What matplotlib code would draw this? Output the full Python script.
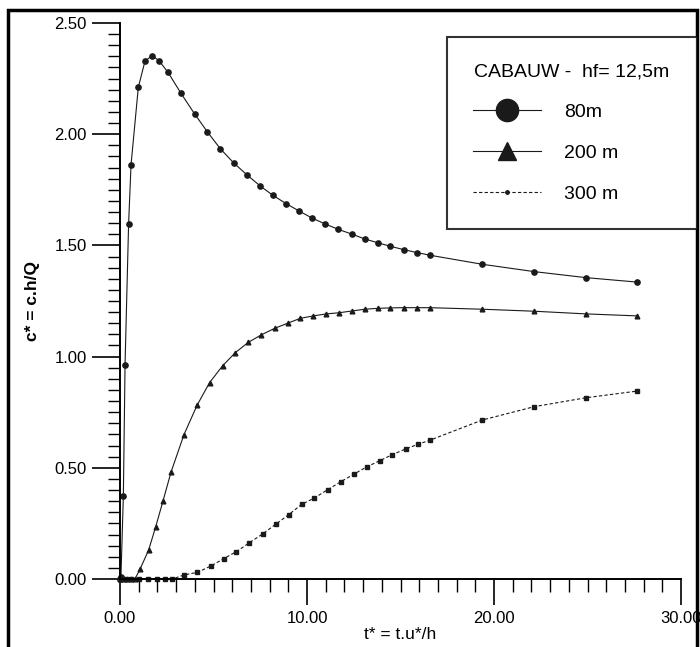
import matplotlib
matplotlib.use("Agg")
import matplotlib.pyplot as plt
from matplotlib.lines import Line2D
from matplotlib.patches import Rectangle
from matplotlib.ticker import MultipleLocator

plt.rcParams["font.family"] = ["Liberation Sans", "DejaVu Sans"]

# 80 m series
t_80 = [0.0, 0.05, 0.18, 0.27, 0.46, 0.59, 0.98, 1.34, 1.73, 2.09, 2.57, 3.26, 3.99,
        4.67, 5.36, 6.08, 6.79, 7.50, 8.18, 8.88, 9.57, 10.27, 10.98, 11.68, 12.39,
        13.09, 13.78, 14.46, 15.17, 15.87, 16.56, 19.38, 22.16, 24.92, 27.66]
c_80 = [0.0, 0.01, 0.375, 0.964, 1.596, 1.863, 2.211, 2.330, 2.353, 2.330, 2.278,
        2.184, 2.091, 2.011, 1.935, 1.871, 1.817, 1.767, 1.725, 1.688, 1.655, 1.623,
        1.596, 1.572, 1.551, 1.529, 1.512, 1.496, 1.481, 1.468, 1.456, 1.415, 1.382,
        1.355, 1.335]

# 200 m series
t_200 = [0.0, 0.2, 0.4, 0.6, 0.8, 1.07, 1.53, 1.91, 2.30, 2.73, 3.42, 4.12, 4.79,
         5.49, 6.17, 6.86, 7.56, 8.27, 8.96, 9.64, 10.34, 11.03, 11.70, 12.39, 13.09,
         13.78, 14.46, 15.17, 15.87, 16.56, 19.38, 22.16, 24.92, 27.66]
c_200 = [0.0, 0.0, 0.0, 0.0, 0.0, 0.044, 0.130, 0.235, 0.351, 0.481, 0.649, 0.781,
         0.883, 0.959, 1.018, 1.064, 1.098, 1.127, 1.150, 1.172, 1.183, 1.192, 1.197,
         1.205, 1.213, 1.217, 1.219, 1.220, 1.220, 1.220, 1.213, 1.204, 1.192, 1.183]

# 300 m series
t_300 = [0.0, 0.3, 0.6, 1.0, 1.5, 2.0, 2.4, 2.8, 3.42, 4.14, 4.85, 5.54, 6.22, 6.92,
         7.65, 8.34, 9.02, 9.72, 10.39, 11.11, 11.82, 12.50, 13.19, 13.89, 14.56,
         15.28, 15.95, 16.60, 19.38, 22.16, 24.92, 27.66]
c_300 = [0.0, 0.0, 0.0, 0.0, 0.0, 0.0, 0.0, 0.0, 0.018, 0.030, 0.058, 0.091, 0.123,
         0.163, 0.204, 0.247, 0.289, 0.336, 0.364, 0.402, 0.438, 0.471, 0.504, 0.532,
         0.559, 0.585, 0.606, 0.625, 0.715, 0.775, 0.815, 0.845]

legend_title = "CABAUW -  hf= 12,5m"
labels = ["80m", "200 m", "300 m"]

W, H = 700, 647
fig = plt.figure(figsize=(W / 100, H / 100), dpi=100)
ax = fig.add_axes([120 / W, 1 - 579 / H, (681 - 120) / W, (579 - 23) / H])

ink = "#1a1a1a"
ax.plot(t_80, c_80, "-", color=ink, lw=0.8, marker="o", ms=3.8, clip_on=False)
ax.plot(t_200, c_200, "-", color=ink, lw=0.8, marker="^", ms=3.4, clip_on=False)
ax.plot(t_300, c_300, color=ink, lw=0.8, ls=(0, (3, 2)), marker="s", ms=2.2,
        clip_on=False)

ax.set_xlim(0, 30)
ax.set_ylim(0, 2.5)
ax.xaxis.set_major_locator(MultipleLocator(10))
ax.xaxis.set_minor_locator(MultipleLocator(1))
ax.yaxis.set_major_locator(MultipleLocator(0.5))
ax.yaxis.set_minor_locator(MultipleLocator(0.05))
ax.xaxis.set_major_formatter(lambda v, p: f"{v:.2f}")
ax.yaxis.set_major_formatter(lambda v, p: f"{v:.2f}")
ax.tick_params(which="major", direction="out", length=19, width=1.2,
               labelsize=12, color="black")
ax.tick_params(which="minor", direction="out", length=9, width=1.0, color="black")
ax.tick_params(axis="x", which="major", pad=4)
ax.tick_params(axis="y", which="major", length=20, pad=4)
for s in ("top", "right"):
    ax.spines[s].set_visible(False)
for s in ("left", "bottom"):
    ax.spines[s].set_linewidth(1.4)

ax.set_xlabel("t* = t.u*/h", fontsize=12.5, labelpad=1)
ax.set_ylabel("c* = c.h/Q", fontsize=12.5, fontweight="bold", labelpad=10)

# legend box, right edge sits on the page frame
handles = [
    Line2D([], [], color=ink, lw=0.8, marker="o", ms=16),
    Line2D([], [], color=ink, lw=0.8, marker="^", ms=13),
    Line2D([], [], color=ink, lw=0.8, ls=(0, (3, 2)), marker="o", ms=2.5),
]
leg = fig.legend(handles, labels, title=legend_title, loc="upper left",
                 bbox_to_anchor=(447 / W, 1 - 37 / H, (697 - 447) / W, 0.0),
                 mode="expand", fontsize=14, title_fontsize=14, frameon=True,
                 fancybox=False, edgecolor="black", borderpad=1.35,
                 handlelength=3.5, handletextpad=1.15, labelspacing=1.2,
                 borderaxespad=0.0)
leg.get_frame().set_linewidth(1.5)

# page frame around the whole scan
fig.add_artist(Rectangle((8 / W, -0.1), (697 - 8) / W, 1.1 - 10 / H,
                         transform=fig.transFigure, fill=False, lw=2.5,
                         edgecolor="black", clip_on=False))

fig.savefig("out.png", dpi=100)
